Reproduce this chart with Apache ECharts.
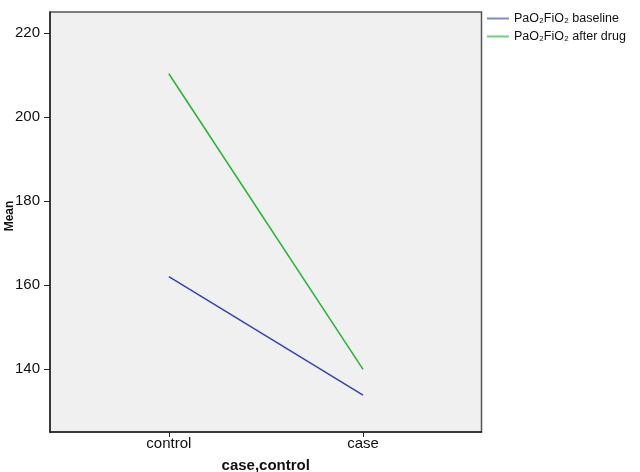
<!DOCTYPE html>
<html>
<head>
<meta charset="utf-8">
<script src="https://cdn.jsdelivr.net/npm/echarts@6/dist/echarts.min.js"></script>
<style>html,body{margin:0;padding:0;background:#fff;}#c{width:640px;height:472px;}</style>
</head>
<body>
<div id="c"></div>
<script>
var categories = ['control', 'case'];
var baseline = [162.0, 133.8];
var afterDrug = [210.3, 139.9];
var yTicks = [140, 160, 180, 200, 220];
var seriesNames = ['PaO\u2082FiO\u2082 baseline', 'PaO\u2082FiO\u2082 after drug'];

function pts(vals) { return vals.map(function (v, i) { return [i, v]; }); }

var chart = echarts.init(document.getElementById('c'), null, { renderer: 'canvas' });
var font = 'Liberation Sans, Arial, sans-serif';
chart.setOption({
  animation: false,
  backgroundColor: '#ffffff',
  textStyle: { fontFamily: font },
  grid: {
    left: 50, top: 12, right: 158.5, bottom: 40,
    show: true, backgroundColor: '#f0f0f0', borderColor: '#555555', borderWidth: 1.5,
    containLabel: false, outerBoundsMode: 'none'
  },
  legend: {
    orient: 'vertical', left: 482, top: 7, itemGap: 5, padding: 5,
    itemWidth: 22, itemHeight: 2, icon: 'rect',
    textStyle: { fontSize: 12.5, color: '#111', fontFamily: font },
    data: seriesNames
  },
  xAxis: {
    type: 'value', min: -0.612, max: 1.61,
    name: 'case,control', nameLocation: 'middle', nameGap: 26, nameMoveOverlap: false,
    nameTextStyle: { fontWeight: 'bold', fontSize: 15, color: '#111', fontFamily: font },
    axisLine: { show: true, onZero: false, lineStyle: { color: '#222', width: 1.5 } },
    axisTick: { show: true, length: 5, customValues: [0, 1], lineStyle: { color: '#222' } },
    axisLabel: {
      customValues: [0, 1], fontSize: 15, color: '#111', margin: 4,
      formatter: function (v) { return categories[Math.round(v)]; }
    },
    splitLine: { show: false }
  },
  yAxis: {
    type: 'value', min: 125, max: 225,
    name: 'Mean', nameLocation: 'middle', nameGap: 34, nameRotate: 90, nameMoveOverlap: false,
    nameTextStyle: { fontWeight: 'bold', fontSize: 12, color: '#111', fontFamily: font, padding: [0, 0, 0, 12] },
    axisLine: { show: true, onZero: false, lineStyle: { color: '#222', width: 1.5 } },
    axisTick: { show: true, length: 6, customValues: yTicks, lineStyle: { color: '#222' } },
    axisLabel: { customValues: yTicks, fontSize: 15, color: '#111', margin: 10 },
    splitLine: { show: false }
  },
  series: [
    { name: seriesNames[0], type: 'line', data: pts(baseline), showSymbol: false,
      lineStyle: { color: '#3343b0', width: 1.5 }, itemStyle: { color: '#7f8ad0' } },
    { name: seriesNames[1], type: 'line', data: pts(afterDrug), showSymbol: false,
      lineStyle: { color: '#22b433', width: 1.5 }, itemStyle: { color: '#6fd07a' } }
  ]
});
</script>
</body>
</html>
